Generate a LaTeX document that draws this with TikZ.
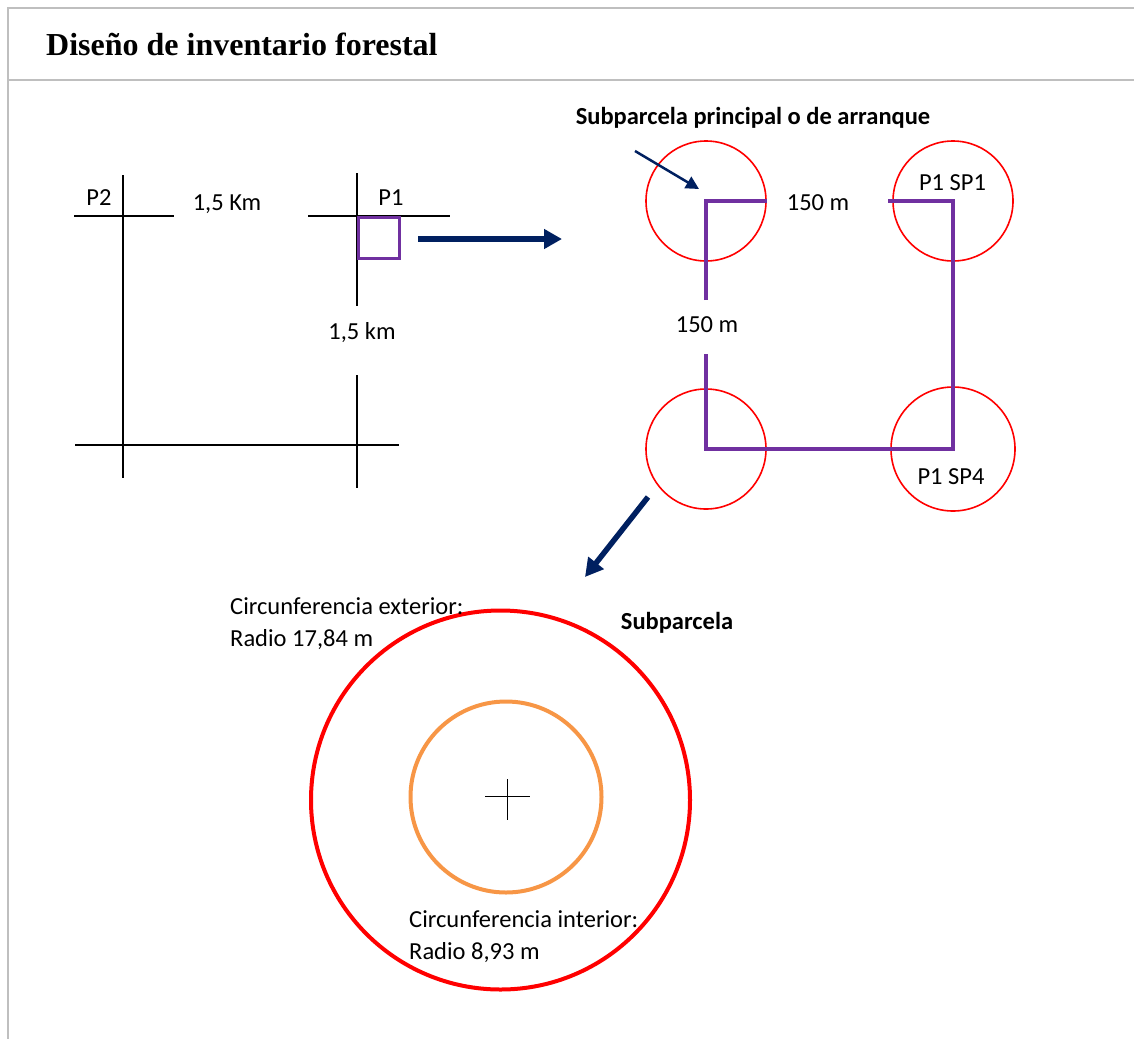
\documentclass[tikz,border=0pt]{standalone}
\usepackage{fontspec}
\setmainfont{Carlito}
\newfontfamily\titlefont{Liberation Serif}
\usepackage{tikz}
\usetikzlibrary{arrows.meta,positioning}

\definecolor{plotpurple}{HTML}{7030A0}
\definecolor{plotred}{HTML}{FF0000}
\definecolor{plotorange}{HTML}{F79646}
\definecolor{plotnavy}{HTML}{002060}
\definecolor{framegray}{HTML}{BFBFBF}

\begin{document}
\begin{tikzpicture}[
      x=1pt, y=-1pt,
      font=\fontsize{24.5}{29}\selectfont,
      txt/.style={inner sep=0pt, align=left},
      boldtxt/.style={inner sep=0pt, font=\fontsize{24.5}{29}\selectfont\bfseries},
      frameline/.style={draw=framegray, line width=2.2pt},
      gridline/.style={draw=black, line width=1.5pt},
      track/.style={draw=plotpurple, line width=4pt},
      subcirc/.style={circle, draw=plotred, line width=1.6pt, minimum size=120pt, inner sep=0pt},
      bigarrow/.style={draw=plotnavy, line width=5.5pt,
          -{Triangle[length=18pt, width=19pt]}},
      smallarrow/.style={draw=plotnavy, line width=2.5pt,
          -{Triangle[length=13pt, width=13pt]}}
  ]
  \useasboundingbox (0,0) rectangle (1134,1039);

  \coordinate (ftopL) at (8,8);
  \coordinate (ftopR) at (1134,8);
  \coordinate (fsepL) at (8,80);
  \coordinate (fsepR) at (1134,80);
  \coordinate (fbot) at (8,1039);
  \draw[frameline] (ftopR) -- (ftopL) -- (fbot);
  \draw[frameline] (fsepL) -- (fsepR);
  \node[anchor=base west, inner sep=0pt, font=\fontsize{32}{36}\selectfont\titlefont\bfseries]
      (title) at (46,55) {Diseño de inventario forestal};

  \coordinate (p2n) at (123,175);
  \coordinate (p2s) at (123,478);
  \coordinate (p2w) at (74,216);
  \coordinate (p2e) at (174,216);
  \coordinate (p1n) at (357,173);
  \coordinate (p1m) at (357,306);
  \coordinate (p1r) at (357,375);
  \coordinate (p1s) at (357,488);
  \coordinate (p1w) at (308,216);
  \coordinate (p1e) at (450,216);
  \coordinate (botw) at (75,445);
  \coordinate (bote) at (399,445);
  \draw[gridline] (p2n) -- (p2s);
  \draw[gridline] (p2w) -- (p2e);
  \draw[gridline] (p1n) -- (p1m);
  \draw[gridline] (p1r) -- (p1s);
  \draw[gridline] (p1w) -- (p1e);
  \draw[gridline] (botw) -- (bote);
  \node[txt] (lblp2) at (99,198) {P2};
  \node[txt] (lblkm) at (227,204) {1,5 Km};
  \node[txt] (lblp1) at (391,198) {P1};
  \node[txt] (lblkmv) at (362,333) {1,5 km};
  \node[draw=plotpurple, line width=3pt, minimum size=41pt, inner sep=0pt] (p1sq) at (379,237.5) {};

  \coordinate (arrA) at (418,239);
  \coordinate (arrB) at (562,239);
  \draw[bigarrow] (arrA) -- (arrB);

  \node[boldtxt] (lblmain) at (753,118) {Subparcela principal o de arranque};
  \node[subcirc] (spA) at (706,201) {};
  \node[subcirc] (spB) at (953,201) {};
  \node[subcirc] (spC) at (706,449) {};
  \node[subcirc, minimum size=124pt] (spD) at (953,449) {};
  \coordinate (trkA) at (706,300);
  \coordinate (trkB) at (767,201);
  \coordinate (trkC) at (706,354);
  \coordinate (trkD) at (888,201);
  \draw[track] (trkA) -- (spA.center) -- (trkB);
  \draw[track] (trkC) -- (spC.center) -- (spD.center) -- (spB.center) -- (trkD);
  \node[txt] (lbl150h) at (818,203) {150 m};
  \node[txt] (lbl150v) at (707,325) {150 m};
  \node[txt] (lblsp1) at (952.5,183) {P1 SP1};
  \node[txt] (lblsp4) at (951,477) {P1 SP4};
  \coordinate (ptrA) at (635,151);
  \coordinate (ptrB) at (699,189);
  \draw[smallarrow] (ptrA) -- (ptrB);
  \coordinate (dwnA) at (648,497);
  \coordinate (dwnB) at (585,577);
  \draw[bigarrow] (dwnA) -- (dwnB);

  \node[circle, draw=plotred, line width=4pt, minimum size=379pt, inner sep=0pt] (outer) at (500.5,800) {};
  \node[circle, draw=plotorange, line width=4pt, minimum size=191pt, inner sep=0pt] (inner) at (506,797) {};
  \coordinate (crsN) at (507.5,779);
  \coordinate (crsS) at (507.5,820);
  \coordinate (crsW) at (485,796.5);
  \coordinate (crsE) at (530,796.5);
  \draw[gridline] (crsN) -- (crsS);
  \draw[gridline] (crsW) -- (crsE);
  \node[txt, anchor=west] (lblext) at (230,606) {Circunferencia exterior:};
  \node[txt, anchor=west] (lblextr) at (230,640) {Radio 17,84 m};
  \node[boldtxt] (lblsub) at (677,623) {Subparcela};
  \node[txt, anchor=west] (lblint) at (409,919) {Circunferencia interior:};
  \node[txt, anchor=west] (lblintr) at (409,953) {Radio 8,93 m};
\end{tikzpicture}
\end{document}
